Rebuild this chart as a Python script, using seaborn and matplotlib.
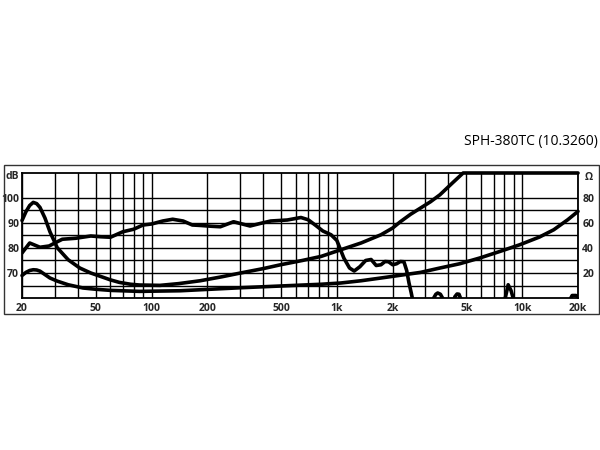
import numpy as np
import pandas as pd
import matplotlib
matplotlib.use("Agg")
import matplotlib.pyplot as plt
from matplotlib.patches import Rectangle
import seaborn as sns

# frequency response (dB, left axis)
resp_freq = [20, 22, 25, 28, 31, 33, 39, 47, 53, 60, 70, 80, 90, 100, 115, 130, 148, 166,
             185, 210, 235, 277, 340, 390, 440, 540, 640, 700, 770, 840, 930, 1000, 1090,
             1170, 1240, 1330, 1430, 1530, 1630, 1730, 1820, 1900, 2000, 2100, 2200, 2300,
             2380, 2450, 2520, 2600, 2800, 3200, 3330, 3420, 3500, 3620, 3780, 4200, 4330,
             4450, 4560, 4700, 5000, 6500, 7800, 8100, 8400, 8700, 9100, 9500, 14000, 17000,
             18000, 18600, 19500, 20000]
resp_db = [78, 82, 80.3, 80.8, 82.5, 83.5, 83.9, 84.8, 84.5, 84.3, 86.5, 87.5, 89.2, 89.6,
           90.8, 91.5, 90.8, 89.2, 89, 88.7, 88.5, 90.5, 88.8, 89.9, 90.8, 91.2, 92.2, 91.3,
           89, 86.8, 85.3, 83, 76, 72, 70.8, 72.5, 75, 75.4, 73, 73.3, 74.6, 74.5, 73.3,
           73.7, 74.6, 74.5, 71, 66, 62, 57, 52, 52, 60, 61.5, 62, 61.5, 59, 55, 60.5,
           61.6, 61.5, 59, 52, 50, 52, 60, 65.3, 63, 58, 50, 48, 52, 59, 61, 61, 60.5]

# impedance, upper curve (ohm, right axis)
imp_a_freq = [20, 21, 22, 23, 24, 25, 26.6, 28.3, 31, 35.5, 41, 47, 53, 60, 67, 77, 86,
              111, 140, 183, 240, 302, 400, 497, 650, 823, 1050, 1350, 1730, 2000, 2200,
              2500, 2830, 3200, 3600, 4200, 4800, 5000, 20000]
imp_a_ohm = [62, 69, 74, 76.5, 75.5, 72.5, 64, 53, 40.2, 30.6, 24, 20, 17.3, 14.5, 12.5,
             11, 10.4, 10.1, 11.5, 13.8, 17, 20, 23.5, 26.6, 30, 33.3, 38.6, 44, 50.6, 56,
             61, 67, 72, 77, 82.6, 92, 100, 100, 100]

# impedance, lower curve (ohm, right axis)
imp_b_freq = [20, 21, 22, 23, 24, 25, 28.3, 31, 35.5, 42.7, 50, 60, 86, 143, 183, 302, 497,
              823, 1050, 1350, 1730, 2200, 2830, 3600, 4600, 5900, 7600, 9700, 12400,
              14800, 17600, 20000]
imp_b_ohm = [18, 20.5, 22, 22.6, 22.4, 21.5, 16, 13.5, 10.6, 8, 7, 6.1, 5.3, 5.8, 6.6, 8.2,
             9.6, 11, 12, 13.8, 16, 18.2, 20.5, 24, 27.4, 32, 37.3, 42.6, 48.8, 54.6, 62.6,
             69.3]

grid_freqs = [20, 30, 40, 50, 60, 70, 80, 90, 100, 200, 300, 400, 500, 600, 700, 800, 900,
              1000, 2000, 3000, 4000, 5000, 6000, 7000, 8000, 9000, 10000, 20000]
freq_labels = {20: "20", 50: "50", 100: "100", 200: "200", 500: "500", 1000: "1k",
               2000: "2k", 5000: "5k", 10000: "10k", 20000: "20k"}
db_grid = [65, 70, 75, 80, 85, 90, 95, 100]
db_labels = {70: "70", 80: "80", 90: "90", 100: "100"}
ohm_ticks = [20, 40, 60, 80]

sns.set_style("white")
plt.rcParams["font.family"] = ["Open Sans", "DejaVu Sans"]

fig = plt.figure(figsize=(6, 4.5), dpi=100)
ax = fig.add_axes([22 / 600, 152 / 450, 556 / 600, 125 / 450])

lw = 2.6
sns.lineplot(x=resp_freq, y=resp_db, ax=ax, color="black", lw=lw, sort=False,
             solid_joinstyle="round", solid_capstyle="round")
ax.set_xscale("log")
ax.set_ylim(60, 110)

ax2 = ax.twinx()
sns.lineplot(x=imp_a_freq, y=imp_a_ohm, ax=ax2, color="black", lw=lw, sort=False,
             clip_on=False, solid_joinstyle="round", solid_capstyle="round")
sns.lineplot(x=imp_b_freq, y=imp_b_ohm, ax=ax2, color="black", lw=lw, sort=False,
             clip_on=False, solid_joinstyle="round", solid_capstyle="round")
ax2.set_ylim(0, 100)

# ticks and grid after twinx, so the shared log axis keeps them
ax.set_xlim(20, 20000)
ax.set_xticks(grid_freqs)
ax.set_xticklabels([freq_labels.get(f, "") for f in grid_freqs])
ax.set_xticks([], minor=True)
ax.set_yticks(db_grid)
ax.set_yticklabels([db_labels.get(v, "") for v in db_grid])
ax.set_yticks([], minor=True)
ax.grid(True, which="major", color="black", lw=1.0)
ax.tick_params(axis="x", which="both", length=0, pad=3.5, labelsize=7.5)
ax.tick_params(axis="y", which="both", length=0, pad=2, labelsize=7.5)
for lab in ax.get_xticklabels() + ax.get_yticklabels():
    lab.set_fontweight("bold")
for s in ax.spines.values():
    s.set_color("black")
    s.set_linewidth(1.3)

ax2.set_yticks(ohm_ticks)
ax2.set_yticklabels([str(v) for v in ohm_ticks])
ax2.set_yticks([], minor=True)
ax2.tick_params(axis="y", which="both", length=0, pad=3, labelsize=7.5)
for lab in ax2.get_yticklabels():
    lab.set_fontweight("bold")
ax2.grid(False)
for s in ax2.spines.values():
    s.set_visible(False)
ax.set_xlabel("")
ax.set_ylabel("")
ax2.set_ylabel("")

fig.text(12 / 600, 1 - 176 / 450, "dB", ha="center", va="center", fontsize=7.5,
         fontweight="bold")
fig.text(589 / 600, 1 - 177 / 450, "Ω", ha="center", va="center", fontsize=7.5,
         fontweight="bold")
fig.text(598 / 600, 1 - 141 / 450, "SPH-380TC (10.3260)", ha="right", va="center",
         fontsize=10, color="black")

fig.add_artist(Rectangle((4 / 600, 136 / 450), 595 / 600, 149 / 450,
                         transform=fig.transFigure, fill=False, lw=1.0, ec="#333333"))

fig.savefig("out.png", dpi=100)
